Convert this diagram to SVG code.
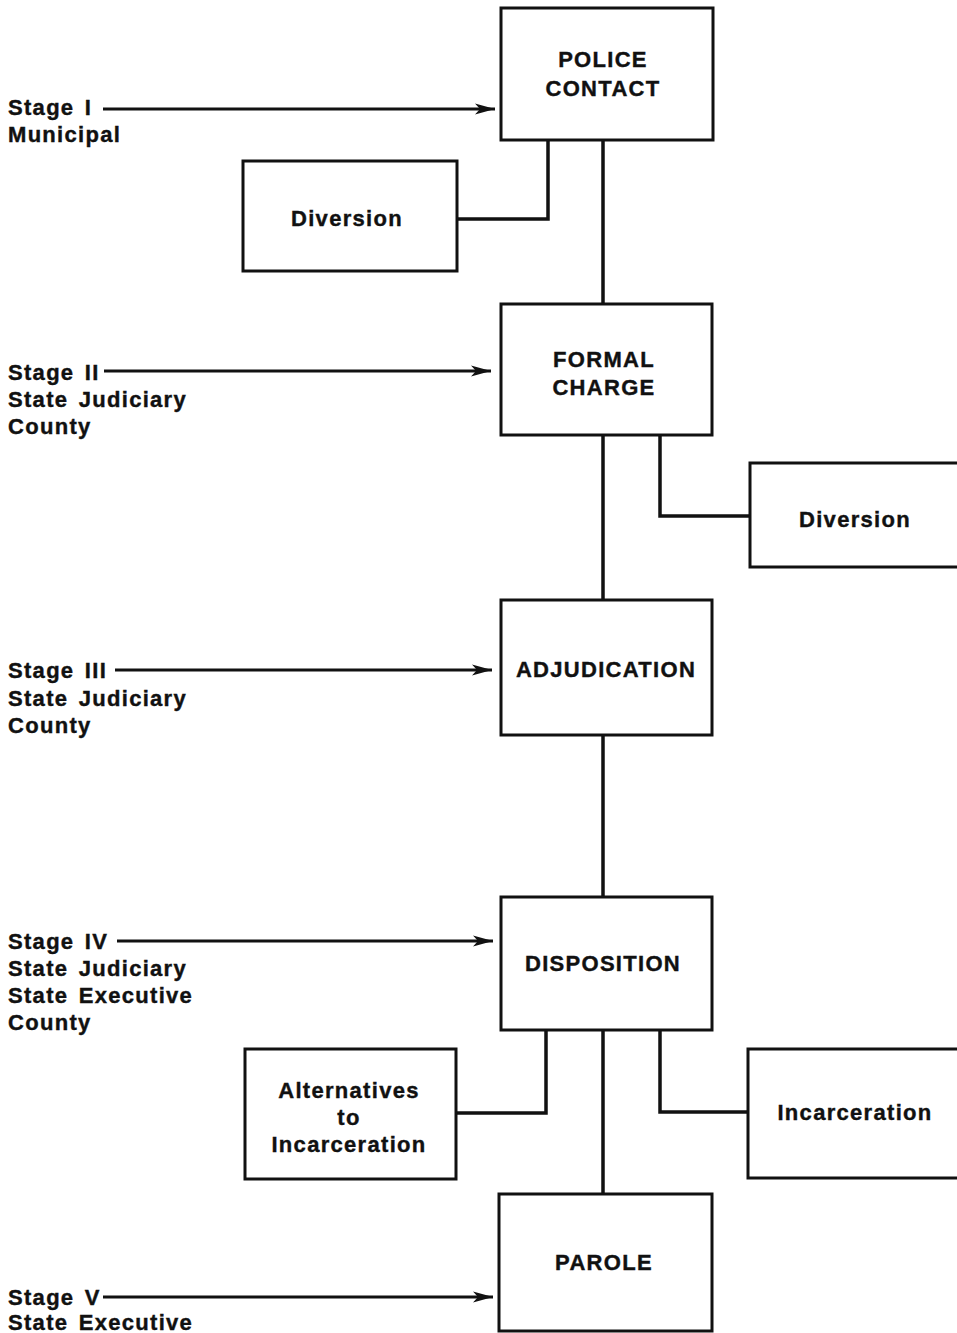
<svg xmlns="http://www.w3.org/2000/svg" width="957" height="1333" viewBox="0 0 957 1333">
<style>
.box{fill:#fff;stroke:#111;stroke-width:3}
.con{fill:none;stroke:#111;stroke-width:3.5}
.arr{fill:none;stroke:#111;stroke-width:2.8}
text{font-family:"Liberation Sans",Arial,sans-serif;font-weight:bold;font-size:22px;fill:#111;stroke:#111;stroke-width:0.4;letter-spacing:1.3px;word-spacing:3px}
.c{text-anchor:middle}
</style>
<defs>
<marker id="ah" markerUnits="userSpaceOnUse" markerWidth="24" markerHeight="14" refX="20" refY="7" orient="auto">
<path d="M0,1.5 L20,7 L0,12.5 L5,7 Z" fill="#111"/>
</marker>
</defs>
<rect width="957" height="1333" fill="#fff"/>
<g id="connectors">
<path class="con" d="M603,140 V304 M603,435 V600 M603,735 V897 M603,1030 V1194"/>
<path class="con" d="M548,140 V219 H457"/>
<path class="con" d="M660,435 V516 H750"/>
<path class="con" d="M546,1030 V1113 H456"/>
<path class="con" d="M660,1030 V1112 H748"/>
<path class="arr" marker-end="url(#ah)" d="M103,109 H495"/>
<path class="arr" marker-end="url(#ah)" d="M104,371 H491"/>
<path class="arr" marker-end="url(#ah)" d="M115,670 H492"/>
<path class="arr" marker-end="url(#ah)" d="M117,941 H493"/>
<path class="arr" marker-end="url(#ah)" d="M103,1297 H493"/>
</g>
<g id="police"><rect class="box" x="501" y="8" width="212" height="132"/><text class="c" x="603" y="67">POLICE</text><text class="c" x="603" y="96">CONTACT</text></g>
<g id="diversion1"><rect class="box" x="243" y="161" width="214" height="110"/><text class="c" x="347" y="226">Diversion</text></g>
<g id="formal"><rect class="box" x="501" y="304" width="211" height="131"/><text class="c" x="604" y="367">FORMAL</text><text class="c" x="604" y="395">CHARGE</text></g>
<g id="diversion2"><rect class="box" x="750" y="463" width="210" height="104"/><text class="c" x="855" y="527">Diversion</text></g>
<g id="adjudication"><rect class="box" x="501" y="600" width="211" height="135"/><text class="c" x="606" y="677">ADJUDICATION</text></g>
<g id="disposition"><rect class="box" x="501" y="897" width="211" height="133"/><text class="c" x="603" y="971">DISPOSITION</text></g>
<g id="alternatives"><rect class="box" x="245" y="1049" width="211" height="130"/><text class="c" x="349" y="1098">Alternatives</text><text class="c" x="349" y="1125">to</text><text class="c" x="349" y="1152">Incarceration</text></g>
<g id="incarceration"><rect class="box" x="748" y="1049" width="212" height="129"/><text class="c" x="855" y="1120">Incarceration</text></g>
<g id="parole"><rect class="box" x="499" y="1194" width="213" height="137"/><text class="c" x="604" y="1270">PAROLE</text></g>
<g id="stage1"><text x="8" y="115">Stage  I</text><text x="8" y="142">Municipal</text></g>
<g id="stage2"><text x="8" y="380">Stage  II</text><text x="8" y="407">State Judiciary</text><text x="8" y="434">County</text></g>
<g id="stage3"><text x="8" y="678">Stage  III</text><text x="8" y="706">State Judiciary</text><text x="8" y="733">County</text></g>
<g id="stage4"><text x="8" y="949">Stage  IV</text><text x="8" y="976">State Judiciary</text><text x="8" y="1003">State Executive</text><text x="8" y="1030">County</text></g>
<g id="stage5"><text x="8" y="1305">Stage  V</text><text x="8" y="1330">State Executive</text></g>
</svg>
